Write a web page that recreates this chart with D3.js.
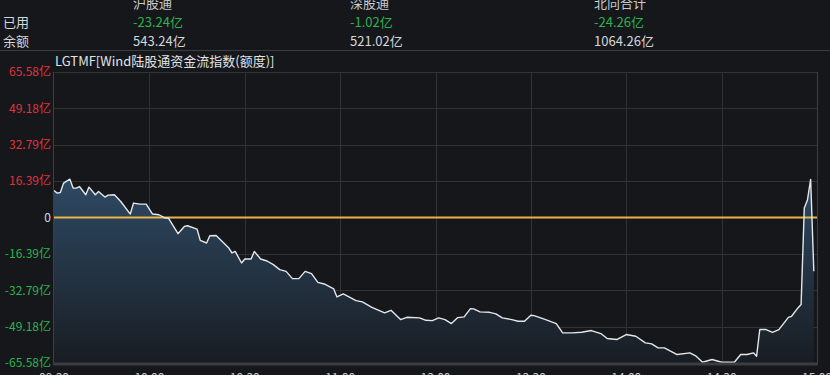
<!DOCTYPE html>
<html lang="zh">
<head>
  <meta charset="UTF-8" />
  <title>LGTMF</title>
  <script src="https://d3js.org/d3.v7.min.js"></script>
  <style>
    body {
      margin: 0;
      background-color: #15171b;
      overflow: hidden;
      font-family: "Noto Sans CJK SC", "Noto Sans", sans-serif;
    }
    svg text { font-family: "Noto Sans CJK SC", "Noto Sans", sans-serif; }
  </style>
</head>
<body>
  <script>
    // Header table
    const channels = ["沪股通", "深股通", "北向合计"];
    const used = ["-23.24亿", "-1.02亿", "-24.26亿"];
    const balance = ["543.24亿", "521.02亿", "1064.26亿"];

    // Axis labels
    const timeLabels = ["09:30", "10:00", "10:30", "11:00", "13:00", "13:30", "14:00", "14:30", "15:00"];
    const yTicks = [65.58, 49.18, 32.79, 16.39, 0, -16.39, -32.79, -49.18, -65.58];

    // Series: trading minute index (0 = 09:30, 240 = 15:00) and flow value (亿)
    const minutes = [0, 1, 2, 3, 5, 6, 7, 8, 10, 11, 13, 14, 16, 17, 19, 21, 24, 25, 27, 29,
      31, 33, 35, 36, 39, 41, 42, 45, 46, 48, 49, 51, 55, 56, 57, 59, 60, 62, 63, 65,
      67, 69, 71, 73, 75, 77, 79, 81, 83, 85, 88, 89, 91, 95, 97, 100, 104, 106, 109, 111,
      115, 117, 119, 121, 123, 125, 127, 129, 131, 132, 134, 137, 139, 141, 144, 146, 148, 150, 151, 154,
      158, 160, 163, 166, 169, 172, 174, 177, 180, 183, 186, 188, 190, 192, 196, 200, 202, 204, 207, 210,
      214, 216, 218, 220, 221, 222, 224, 226, 228, 231, 232, 234, 235, 236, 237, 238, 239];
    const values = [12.17, 11.00, 11.27, 15.50, 17.30, 13.25, 13.25, 13.97, 10.24, 13.70, 10.24, 11.72, 9.20, 10.10, 10.24, 7.22, 1.55, 6.50, 6.05, 6.05,
      1.55, 1.24, -0.25, -0.25, -7.31, -4.03, -3.71, -5.20, -10.33, -11.50, -8.21, -8.08, -13.75, -16.00, -15.28, -20.50, -18.70, -18.70, -15.28, -18.70,
      -19.60, -21.26, -23.51, -24.28, -27.56, -27.56, -24.28, -25.31, -29.23, -29.95, -32.20, -35.80, -34.45, -37.46, -38.05, -40.48, -43.00, -41.83, -46.01, -44.98,
      -45.25, -46.33, -46.46, -45.25, -46.01, -47.81, -45.11, -44.80, -41.06, -41.20, -42.55, -42.73, -43.45, -45.25, -46.01, -46.78, -46.78, -44.08, -44.21, -45.70,
      -47.81, -52.00, -52.00, -51.73, -50.96, -52.31, -54.56, -55.01, -52.76, -53.53, -56.50, -56.95, -58.75, -58.75, -61.76, -61.00, -62.53, -65.23, -64.01, -65.23,
      -65.23, -61.76, -61.76, -61.00, -62.53, -50.51, -50.51, -51.73, -50.51, -45.02, -44.53, -40.75, -39.26, 4.25, 7.90, 17.20, -24.26];

    const width = 830, height = 375;
    const plotLeft = 54, plotRight = 817, plotTop = 72, plotBottom = 363;

    const svg = d3.select("body").append("svg")
      .attr("width", width)
      .attr("height", height);

    const x = d3.scaleLinear().domain([0, 240]).range([plotLeft, plotRight]);
    const y = d3.scaleLinear().domain([-65.58, 65.58]).range([plotBottom, plotTop]);

    // Header table
    const colX = [133, 350, 594];
    const header = svg.append("g").style("font-size", "13px");
    channels.forEach((c, i) => {
      header.append("text").attr("x", colX[i]).attr("y", 8).attr("fill", "#c9cbce").text(c);
      header.append("text").attr("x", colX[i]).attr("y", 27).attr("fill", "#2eb24f").text(used[i]);
      header.append("text").attr("x", colX[i]).attr("y", 46).attr("fill", "#d5d7da").text(balance[i]);
    });
    header.append("text").attr("x", 3).attr("y", 27).attr("fill", "#d5d7da").text("已用");
    header.append("text").attr("x", 3).attr("y", 46).attr("fill", "#d5d7da").text("余额");

    svg.append("line")
      .attr("x1", 0).attr("x2", width).attr("y1", 50.5).attr("y2", 50.5)
      .attr("stroke", "#3a3d42").attr("stroke-width", 1);

    svg.append("text")
      .attr("x", 55).attr("y", 66)
      .attr("fill", "#e2e4e6")
      .style("font-size", "13px")
      .text("LGTMF[Wind陆股通资金流指数(额度)]");

    // Grid
    const grid = svg.append("g").attr("stroke", "#2f3237").attr("stroke-width", 1);
    grid.selectAll("line.h")
      .data(yTicks.filter(d => d !== 0 && d !== -65.58))
      .join("line")
      .attr("x1", plotLeft).attr("x2", plotRight)
      .attr("y1", d => Math.round(y(d)) + 0.5).attr("y2", d => Math.round(y(d)) + 0.5);
    grid.selectAll("line.v")
      .data(timeLabels.slice(1, -1))
      .join("line")
      .attr("x1", (d, i) => Math.round(x((i + 1) * 30)) + 0.5)
      .attr("x2", (d, i) => Math.round(x((i + 1) * 30)) + 0.5)
      .attr("y1", plotTop).attr("y2", plotBottom);

    // Area + line
    const data = minutes.map((m, i) => ({ m, v: values[i] }));

    const defs = svg.append("defs");
    const grad = defs.append("linearGradient")
      .attr("id", "fillGrad")
      .attr("gradientUnits", "userSpaceOnUse")
      .attr("x1", 0).attr("x2", 0)
      .attr("y1", y(18)).attr("y2", plotBottom);
    grad.append("stop").attr("offset", "0%").attr("stop-color", "#2e4a64");
    grad.append("stop").attr("offset", "100%").attr("stop-color", "#191d23");

    svg.append("path")
      .datum(data)
      .attr("fill", "url(#fillGrad)")
      .attr("d", d3.area().x(d => x(d.m)).y0(plotBottom).y1(d => y(d.v)));

    // Zero line
    svg.append("line")
      .attr("x1", plotLeft).attr("x2", plotRight)
      .attr("y1", y(0)).attr("y2", y(0))
      .attr("stroke", "#e9b546").attr("stroke-width", 2);

    svg.append("path")
      .datum(data)
      .attr("fill", "none")
      .attr("stroke", "#e4e7ea")
      .attr("stroke-width", 1.4)
      .attr("stroke-linejoin", "round")
      .attr("d", d3.line().x(d => x(d.m)).y(d => y(d.v)));

    // Frame
    svg.append("line")
      .attr("x1", plotLeft - 0.5).attr("x2", plotLeft - 0.5).attr("y1", plotTop).attr("y2", plotBottom)
      .attr("stroke", "#3c3f44");
    svg.append("line")
      .attr("x1", plotRight + 0.5).attr("x2", plotRight + 0.5).attr("y1", plotTop).attr("y2", plotBottom)
      .attr("stroke", "#3c3f44");
    svg.append("line")
      .attr("x1", plotLeft - 1).attr("x2", plotRight + 1).attr("y1", plotBottom + 1).attr("y2", plotBottom + 1)
      .attr("stroke", "#3a3d42").attr("stroke-width", 3);

    // Y axis labels
    svg.append("g")
      .style("font-size", "12px")
      .selectAll("text")
      .data(yTicks)
      .join("text")
      .attr("x", 51)
      .attr("y", d => y(d))
      .attr("dy", "0.36em")
      .attr("text-anchor", "end")
      .attr("fill", d => d > 0 ? "#e0333f" : d < 0 ? "#2eb24f" : "#d5d7da")
      .text(d => d === 0 ? "0" : d.toFixed(2) + "亿");

    // X axis labels
    svg.append("g")
      .style("font-size", "12px")
      .selectAll("text")
      .data(timeLabels)
      .join("text")
      .attr("x", (d, i) => x(i * 30))
      .attr("y", 382)
      .attr("text-anchor", "middle")
      .attr("fill", "#c9cbce")
      .text(d => d);
  </script>
</body>
</html>
